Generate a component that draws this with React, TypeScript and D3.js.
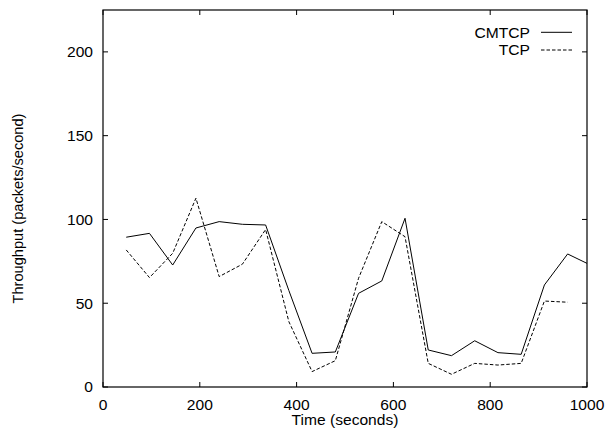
import React from "react";
import * as d3 from "d3";

const timesCMTCP = [48, 96, 144, 192, 240, 288, 336, 384, 432, 480, 528, 576, 624, 672, 720, 768, 816, 864, 912, 960, 1000];
const cmtcp = [89.4, 91.7, 72.8, 94.9, 98.7, 97.1, 96.7, 57.6, 20.1, 20.9, 55.9, 63.3, 100.7, 22.1, 18.7, 27.6, 20.5, 19.5, 60.9, 79.4, 73.8];
const timesTCP = [48, 96, 144, 192, 240, 288, 336, 384, 432, 480, 528, 576, 624, 672, 720, 768, 816, 864, 912, 960];
const tcp = [81.8, 65.3, 79.8, 112.7, 65.9, 73.3, 94.0, 39.0, 9.2, 15.7, 64.9, 98.7, 89.7, 14.1, 7.6, 14.1, 13.1, 14.1, 51.3, 50.6];
const xTicks = [0, 200, 400, 600, 800, 1000];
const yTicks = [0, 50, 100, 150, 200];
const seriesNames = ["CMTCP", "TCP"];
const xTitle = "Time (seconds)";
const yTitle = "Throughput (packets/second)";

const W = 608, H = 432;
const L = 103, R = 587, T = 10, B = 387;
const FONT = "'Liberation Sans', Arial, Helvetica, sans-serif";
const FS = 14.6;
const SX = 1.07;

export default function App() {
  const x = d3.scaleLinear().domain([0, 1000]).range([L, R]);
  const y = d3.scaleLinear().domain([0, 225]).range([B, T]);
  const lineC = d3.line<number>().x((_, i) => x(timesCMTCP[i])).y((d) => y(d));
  const lineT = d3.line<number>().x((_, i) => x(timesTCP[i])).y((d) => y(d));
  const tl = 5;
  const hText = (tx: number, ty: number, s: string, anchor: string) => (
    <text transform={`translate(${tx},${ty}) scale(${SX},1)`} textAnchor={anchor} fontFamily={FONT} fontSize={FS} fill="#000">{s}</text>
  );
  return (
    <svg width={W} height={H} style={{ position: "absolute", left: 0, top: 0, background: "#fff" }}>
      <rect x={0} y={0} width={W} height={H} fill="#fff" />
      <defs>
        <clipPath id="plotclip"><rect x={L} y={T} width={R - L} height={B - T} /></clipPath>
      </defs>
      {xTicks.map((t) => (
        <g key={"xt" + t}>
          <line x1={x(t)} x2={x(t)} y1={B} y2={B - tl} stroke="#000" strokeWidth={1} />
          <line x1={x(t)} x2={x(t)} y1={T} y2={T + tl} stroke="#000" strokeWidth={1} />
          {hText(x(t), 410.3, String(t), "middle")}
        </g>
      ))}
      {yTicks.map((t) => (
        <g key={"yt" + t}>
          <line x1={L} x2={L + tl} y1={y(t)} y2={y(t)} stroke="#000" strokeWidth={1} />
          <line x1={R} x2={R - tl} y1={y(t)} y2={y(t)} stroke="#000" strokeWidth={1} />
          {hText(93, y(t) + 5.3, String(t), "end")}
        </g>
      ))}
      <rect x={L} y={T} width={R - L} height={B - T} fill="none" stroke="#000" strokeWidth={1.2} />
      <g clipPath="url(#plotclip)">
        <path d={lineC(cmtcp) || ""} fill="none" stroke="#000" strokeWidth={1} />
        <path d={lineT(tcp) || ""} fill="none" stroke="#000" strokeWidth={1} strokeDasharray="3.5,2" />
      </g>
      {hText(530, 37.5, seriesNames[0], "end")}
      <line x1={541} x2={572} y1={32.3} y2={32.3} stroke="#000" strokeWidth={1} />
      {hText(530, 55.3, seriesNames[1], "end")}
      <line x1={541} x2={572} y1={50} y2={50} stroke="#000" strokeWidth={1} strokeDasharray="3.5,2" />
      {hText((L + R) / 2, 424.5, xTitle, "middle")}
      <text transform={`translate(22.5,${(T + B) / 2 + 10}) rotate(-90)`} textAnchor="middle" fontFamily={FONT} fontSize={FS} fill="#000">{yTitle}</text>
    </svg>
  );
}
